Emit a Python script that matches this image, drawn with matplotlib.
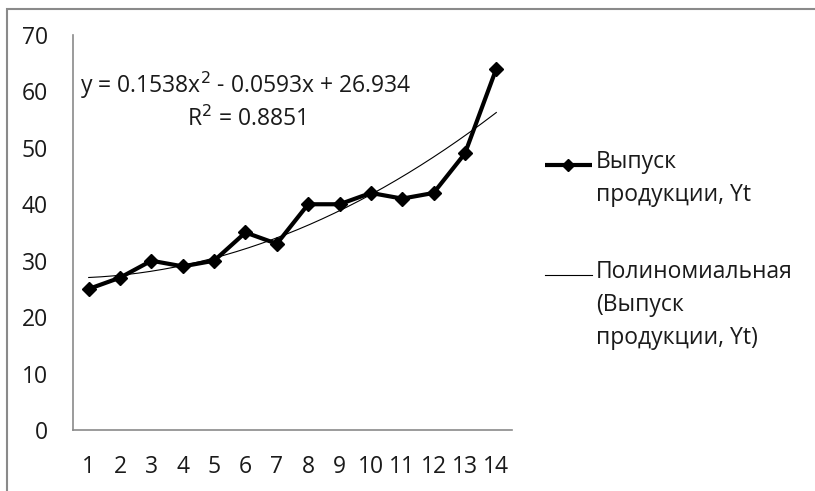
import matplotlib.pyplot as plt
import numpy as np
from matplotlib.patches import Rectangle
from matplotlib.lines import Line2D

plt.rcParams['font.family'] = ['Open Sans', 'DejaVu Sans']

periods = list(range(1, 15))
output_yt = [25, 27, 30, 29, 30, 35, 33, 40, 40, 42, 41, 42, 49, 64]
# quadratic trend coefficients as printed on the chart
trend_coef = [0.1538, -0.0593, 26.934]
r_squared = 0.8851

series_label = 'Выпуск\nпродукции, Yt'
trend_label = 'Полиномиальная\n(Выпуск\nпродукции, Yt)'

FS = 16.5
TXT = '#1a1a1a'

fig = plt.figure(figsize=(8.15, 4.91), dpi=100)
ax = fig.add_axes([0.0896, 0.124, 0.5386, 0.805])

x = np.array(periods)
ax.plot(x, output_yt, color='black', lw=3, marker='D', markersize=7.5, zorder=3)
xt = np.linspace(1, 14, 200)
trend = np.polyval(trend_coef, xt)
ax.plot(xt, trend, color='black', lw=0.8, zorder=2)

ax.set_xlim(0.5, 14.5)
ax.set_ylim(0, 70)
ax.set_yticks(range(0, 71, 10))
ax.set_xticks(periods)
for side in ('top', 'right'):
    ax.spines[side].set_visible(False)
for side in ('left', 'bottom'):
    ax.spines[side].set_color('#8a8a8a')
    ax.spines[side].set_linewidth(1.2)
ax.tick_params(axis='both', length=0, labelsize=FS, colors=TXT)
ax.tick_params(axis='y', pad=18)
ax.tick_params(axis='x', pad=18)

eq = f'y = {trend_coef[0]}x$^2$ - {abs(trend_coef[1])}x + {trend_coef[2]}\nR$^2$ = {r_squared}'
ax.text(0.017, 0.834, eq, transform=ax.transAxes, fontsize=FS, color=TXT,
        ha='left', va='center', multialignment='center', linespacing=1.3)

# legend: handle sits next to the first line of each label
def legend_entry(y_px, label, **line_kw):
    y = 1 - y_px / 491
    fig.add_artist(Line2D([545 / 815, 568 / 815, 592 / 815], [y, y, y],
                          transform=fig.transFigure, color='black', **line_kw))
    fig.text(596 / 815, 1 - (y_px - 15) / 491, label, fontsize=FS, color=TXT,
             ha='left', va='top', linespacing=1.5, transform=fig.transFigure)

legend_entry(165, series_label, lw=3, marker='D', markersize=6,
             markevery=[1], solid_capstyle='butt')
legend_entry(275, trend_label, lw=0.8)

# outer chart border
fig.add_artist(Rectangle((7 / 815, -0.05), 1.1, (491 - 9) / 491 + 0.05,
                         transform=fig.transFigure, fill=False,
                         edgecolor='#8a8a8a', lw=1.5))

fig.savefig('out.png', dpi=100)
